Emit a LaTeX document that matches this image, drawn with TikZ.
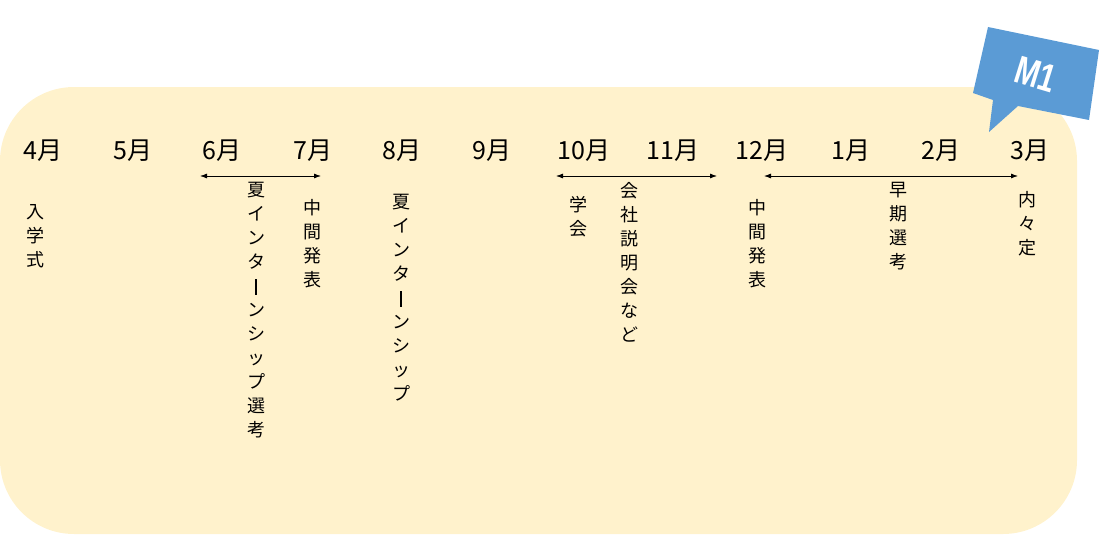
\documentclass[tikz,border=0pt]{standalone}
\usepackage{fontspec}
\newfontfamily\jp{Noto Sans CJK JP}
\newfontfamily\mfont[FakeSlant=0.2]{Liberation Sans}
\setmainfont{Noto Sans CJK JP}
\usetikzlibrary{arrows.meta}
\definecolor{bgyellow}{HTML}{FFF2CC}
\definecolor{calloutblue}{HTML}{5B9BD5}
\newcommand{\vbar}{\rule[-2pt]{1.1pt}{16pt}}
\tikzset{
  month/.style={font=\jp\fontsize{25}{27}\selectfont, anchor=center, inner sep=0pt},
  vtext/.style={font=\jp\fontsize{18}{24}\selectfont, align=center, anchor=north, inner sep=0pt},
  span/.style={{Latex[length=7pt,width=5pt]}-{Latex[length=7pt,width=5pt]}, line width=0.8pt, black},
}
\begin{document}
\begin{tikzpicture}[x=1pt,y=-1pt]
\useasboundingbox (0,0) rectangle (1100,535);
% background panel
\fill[bgyellow, rounded corners=74pt] (0,87) rectangle (1077,534);
% callout
\fill[calloutblue] (988,27) -- (1099,50) -- (1089,120) -- (1018,106) -- (989,132) -- (993,100) -- (973,93) -- cycle;
\node[text=white, font=\mfont\fontsize{40}{42}\selectfont\bfseries, xscale=0.72, rotate=-12] (m1) at (1034,74) {M1};
% months
\node[month] (m4) at (43,151) {4月};
\node[month] (m5) at (133,151) {5月};
\node[month] (m6) at (222,151) {6月};
\node[month] (m7) at (313,151) {7月};
\node[month] (m8) at (402,151) {8月};
\node[month] (m9) at (492,151) {9月};
\node[month] (m10) at (584,151) {10月};
\node[month] (m11) at (673,151) {11月};
\node[month] (m12) at (762,151) {12月};
\node[month] (m1m) at (851,151) {1月};
\node[month] (m2) at (941,151) {2月};
\node[month] (m3) at (1030,151) {3月};
% spans
\coordinate (a1) at (200,176); \coordinate (a2) at (321,176);
\coordinate (b1) at (556,176); \coordinate (b2) at (717,176);
\coordinate (c1) at (764,176); \coordinate (c2) at (1018,176);
\draw[span] (a1) -- (a2);
\draw[span] (b1) -- (b2);
\draw[span] (c1) -- (c2);
% vertical texts
\node[vtext] (t1) at (36,204) {入\\学\\式};
\node[vtext] (t2) at (256,182) {夏\\イ\\ン\\タ\\\vbar\\ン\\シ\\ッ\\プ\\選\\考};
\node[vtext] (t3) at (312,199) {中\\間\\発\\表};
\node[vtext] (t4) at (401,194) {夏\\イ\\ン\\タ\\\vbar\\ン\\シ\\ッ\\プ};
\node[vtext] (t5) at (578,196) {学\\会};
\node[vtext] (t6) at (629,182) {会\\社\\説\\明\\会\\な\\ど};
\node[vtext] (t7) at (757,199) {中\\間\\発\\表};
\node[vtext] (t8) at (898,182) {早\\期\\選\\考};
\node[vtext] (t9) at (1027,191) {内\\々\\定};
\end{tikzpicture}
\end{document}
